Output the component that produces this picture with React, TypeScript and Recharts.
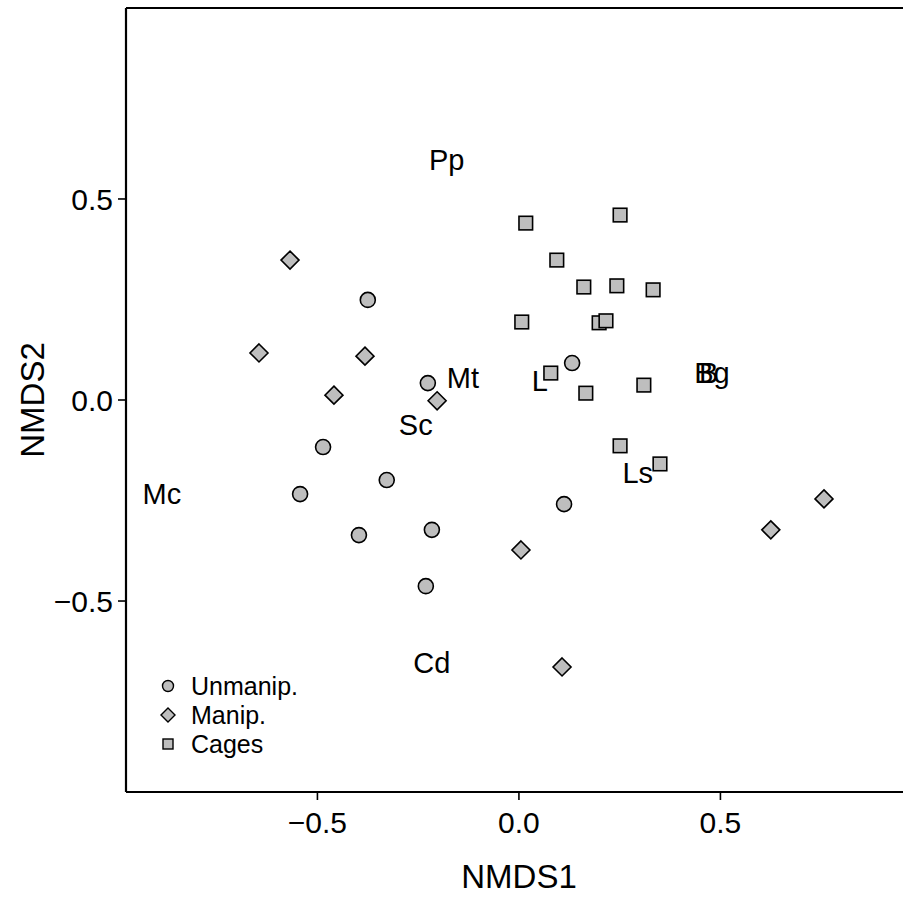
import React from "react";
import {
  ScatterChart,
  Scatter,
  XAxis,
  YAxis,
  ReferenceLine,
  Label,
} from "recharts";

const font = "'Liberation Sans', Arial, Helvetica, sans-serif";

// NMDS site scores by treatment
const unmanipX = [-0.375, -0.226, 0.132, -0.486, -0.328, -0.543, 0.112, -0.216, -0.397, -0.231];
const unmanipY = [0.249, 0.042, 0.092, -0.117, -0.199, -0.234, -0.259, -0.323, -0.336, -0.463];

const manipX = [-0.568, -0.645, -0.382, -0.459, -0.203, 0.005, 0.107, 0.625, 0.757];
const manipY = [0.348, 0.117, 0.109, 0.012, -0.002, -0.373, -0.664, -0.323, -0.246];

const cagesX = [0.017, 0.251, 0.094, 0.161, 0.243, 0.333, 0.007, 0.199, 0.216, 0.079, 0.166, 0.31, 0.251, 0.35];
const cagesY = [0.44, 0.46, 0.348, 0.281, 0.284, 0.274, 0.194, 0.192, 0.197, 0.067, 0.017, 0.037, -0.114, -0.159];

// species scores (text labels)
const speciesNames = ["Pp", "Mt", "Sc", "Mc", "Cd", "L", "Ls", "B", "Bg"];
const speciesX = [-0.179, -0.139, -0.256, -0.886, -0.216, 0.052, 0.295, 0.471, 0.479];
const speciesY = [0.597, 0.055, -0.062, -0.234, -0.654, 0.047, -0.182, 0.067, 0.067];

const xTicks = [-0.5, 0, 0.5];
const yTicks = [-0.5, 0, 0.5];
const LIM = 0.975;
// the frame runs off the right edge of the figure
const X_MAX = 1.06;

const zip = (xs: number[], ys: number[]) => xs.map((x, i) => ({ x, y: ys[i] }));
const unmanip = zip(unmanipX, unmanipY);
const manip = zip(manipX, manipY);
const cages = zip(cagesX, cagesY);
const species = speciesNames.map((name, i) => ({ name, x: speciesX[i], y: speciesY[i] }));

const FILL = "#bebebe";
const STROKE = "#000";

const fmt = (v: number) => v.toFixed(1).replace("-", "\u2212");

function CircleMark(p: any) {
  return <circle cx={p.cx} cy={p.cy} r={7.5} fill={FILL} stroke={STROKE} strokeWidth={1.6} />;
}
function DiamondMark(p: any) {
  const h = 9;
  return (
    <polygon
      points={`${p.cx},${p.cy - h} ${p.cx + h},${p.cy} ${p.cx},${p.cy + h} ${p.cx - h},${p.cy}`}
      fill={FILL}
      stroke={STROKE}
      strokeWidth={1.6}
    />
  );
}
function SquareMark(p: any) {
  const h = 6.8;
  return <rect x={p.cx - h} y={p.cy - h} width={2 * h} height={2 * h} fill={FILL} stroke={STROKE} strokeWidth={1.6} />;
}
function SpeciesText(p: any) {
  return (
    <text
      x={p.cx}
      y={p.cy}
      textAnchor="middle"
      dominantBaseline="central"
      fontFamily={font}
      fontSize={29}
      fill="#000"
    >
      {p.payload.name}
    </text>
  );
}

function Legend() {
  const rows = [
    { label: "Unmanip.", y: 686, kind: "circle" },
    { label: "Manip.", y: 715, kind: "diamond" },
    { label: "Cages", y: 744, kind: "square" },
  ];
  const cx = 168;
  return (
    <svg style={{ position: "absolute", left: 0, top: 0 }} width={300} height={800}>
      {rows.map((r) => (
        <g key={r.label}>
          {r.kind === "circle" && <circle cx={cx} cy={r.y} r={5.5} fill={FILL} stroke={STROKE} strokeWidth={1.4} />}
          {r.kind === "diamond" && (
            <polygon
              points={`${cx},${r.y - 7} ${cx + 7},${r.y} ${cx},${r.y + 7} ${cx - 7},${r.y}`}
              fill={FILL}
              stroke={STROKE}
              strokeWidth={1.4}
            />
          )}
          {r.kind === "square" && <rect x={cx - 5} y={r.y - 5} width={10} height={10} fill={FILL} stroke={STROKE} strokeWidth={1.4} />}
          <text x={191} y={r.y} dominantBaseline="central" fontFamily={font} fontSize={25} fill="#000">
            {r.label}
          </text>
        </g>
      ))}
    </svg>
  );
}

export default function App() {
  const tick = { fontSize: 30, fontFamily: font, fill: "#000" };
  const frame = { stroke: "#000", strokeWidth: 2.2 };
  // 403 px per unit on x: plot width = (X_MAX + LIM) * 403
  const plotW = (X_MAX + LIM) * 403;
  return (
    <div style={{ position: "absolute", left: 0, top: 0, width: 903, height: 909, overflow: "hidden", background: "#fff" }}>
      <ScatterChart width={903} height={909} margin={{ top: 8, right: 903 - 126 - plotW, bottom: 0, left: 0 }}>
        <XAxis
          type="number"
          dataKey="x"
          domain={[-LIM, X_MAX]}
          allowDataOverflow
          ticks={xTicks}
          tickFormatter={fmt}
          height={117}
          tick={tick}
          tickSize={8}
          tickMargin={12}
          axisLine={false}
          tickLine={{ stroke: "#000", strokeWidth: 1.6 }}
        >
          <Label
            content={() => (
              <text x={519} y={888} textAnchor="middle" fontFamily={font} fontSize={33} fill="#000">
                NMDS1
              </text>
            )}
          />
        </XAxis>
        <YAxis
          type="number"
          dataKey="y"
          domain={[-LIM, LIM]}
          allowDataOverflow
          ticks={yTicks}
          tickFormatter={fmt}
          width={126}
          tick={tick}
          tickSize={8}
          tickMargin={5}
          axisLine={false}
          tickLine={{ stroke: "#000", strokeWidth: 1.6 }}
        >
          <Label
            content={() => (
              <text
                x={44}
                y={400}
                textAnchor="middle"
                transform="rotate(-90 44 400)"
                fontFamily={font}
                fontSize={33}
                fill="#000"
              >
                NMDS2
              </text>
            )}
          />
        </YAxis>
        <ReferenceLine y={LIM} {...frame} />
        <ReferenceLine y={-LIM} {...frame} />
        <ReferenceLine x={-LIM} {...frame} />
        <Scatter data={unmanip} shape={CircleMark} isAnimationActive={false} />
        <Scatter data={manip} shape={DiamondMark} isAnimationActive={false} />
        <Scatter data={cages} shape={SquareMark} isAnimationActive={false} />
        <Scatter data={species} shape={SpeciesText} isAnimationActive={false} />
      </ScatterChart>
      <Legend />
    </div>
  );
}
